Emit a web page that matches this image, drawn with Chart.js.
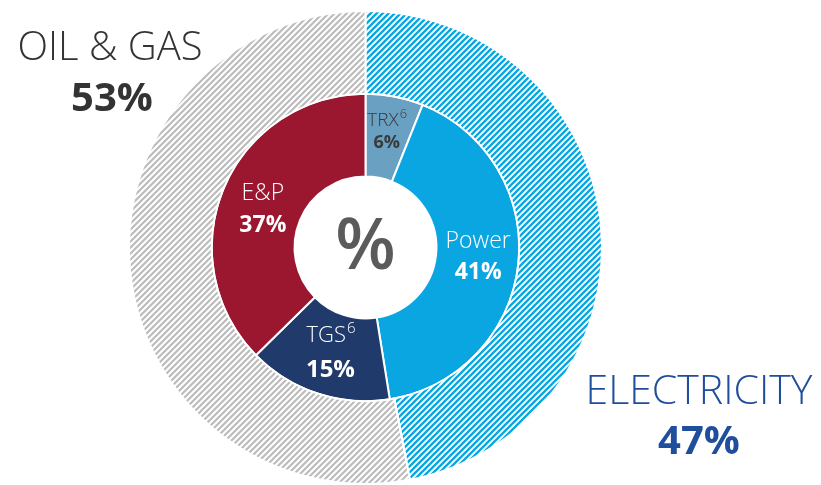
<!DOCTYPE html>
<html>
<head>
<meta charset="utf-8">
<script src="https://cdn.jsdelivr.net/npm/chart.js@4/dist/chart.umd.min.js"></script>
<style>
  html, body { margin: 0; padding: 0; background: #ffffff; }
  #wrap { width: 821px; height: 485px; position: relative; }
</style>
</head>
<body>
<div id="wrap"><canvas id="c" width="821" height="485"></canvas></div>
<script>
// ---- data ----
const outerCategories = ['ELECTRICITY', 'OIL & GAS'];
const outerValues = [47, 53];
const innerCategories = ['TRX', 'Power', 'TGS', 'E&P'];
const innerSup = ['6', '', '6', ''];
const innerValues = [6, 41, 15, 37];
const centerLabel = '%';

// ---- styles ----
const FONT = '"Open Sans", "Noto Sans", sans-serif';
const innerColors = ['#6aa0c2', '#0aa6e1', '#1f3a6b', '#9b1730'];
const innerTextColors = ['#3a3a3a', '#ffffff', '#ffffff', '#ffffff'];
const innerFont = [
  {name: 19, val: 18, gap: 23, dy: -17, dx: 0},
  {name: 23, val: 23, gap: 31, dy: -18, dx: 1},
  {name: 22, val: 24, gap: 34, dy: -18, dx: 0},
  {name: 23, val: 23, gap: 32, dy: -11, dx: 1}
];

function hatch(color, size, lw) {
  const p = document.createElement('canvas');
  p.width = size; p.height = size;
  const g = p.getContext('2d');
  g.fillStyle = '#ffffff';
  g.fillRect(0, 0, size, size);
  g.strokeStyle = color;
  g.lineWidth = lw;
  g.beginPath();
  for (let k = -1; k <= 3; k++) {
    g.moveTo(-size, k * size + size);
    g.lineTo(k * size + size, -size);
  }
  g.stroke();
  return document.getElementById('c').getContext('2d').createPattern(p, 'repeat');
}

const outerColors = [hatch('#0aa6e1', 6, 2.3), hatch('#bcbcbc', 6, 2.2)];

const labelPlugin = {
  id: 'labels',
  afterDatasetsDraw(chart) {
    const ctx = chart.ctx;
    const meta = chart.getDatasetMeta(1);
    ctx.save();
    ctx.textAlign = 'center';
    ctx.textBaseline = 'middle';
    meta.data.forEach((arc, i) => {
      const pos = arc.tooltipPosition(true);
      const f = innerFont[i];
      const x = pos.x + f.dx;
      const y = pos.y + f.dy;
      ctx.fillStyle = innerTextColors[i];
      ctx.font = '300 ' + f.name + 'px ' + FONT;
      const name = innerCategories[i];
      const w = ctx.measureText(name).width;
      let supW = 0;
      const supSize = Math.round(f.name * 0.68);
      if (innerSup[i]) {
        ctx.font = '300 ' + supSize + 'px ' + FONT;
        supW = ctx.measureText(innerSup[i]).width;
      }
      const total = w + supW;
      ctx.font = '300 ' + f.name + 'px ' + FONT;
      ctx.textAlign = 'left';
      ctx.fillText(name, x - total / 2, y);
      if (innerSup[i]) {
        ctx.font = '300 ' + supSize + 'px ' + FONT;
        ctx.fillText(innerSup[i], x - total / 2 + w + 1, y - f.name * 0.33);
      }
      ctx.textAlign = 'center';
      ctx.font = 'bold ' + f.val + 'px ' + FONT;
      ctx.fillText(innerValues[i] + '%', x, y + f.gap);
    });
    // centre
    const c = meta.data[0];
    ctx.fillStyle = '#5b5b5b';
    ctx.font = '600 70px ' + FONT;
    ctx.fillText(centerLabel, c.x, c.y + 2);
    // outer labels
    ctx.fillStyle = '#333333';
    ctx.font = '300 40px ' + FONT;
    ctx.fillText(outerCategories[1], 110, 49);
    ctx.font = 'bold 40px ' + FONT;
    ctx.fillText(outerValues[1] + '%', 112, 100);
    ctx.fillStyle = '#1f4e9c';
    ctx.font = '300 41px ' + FONT;
    ctx.fillText(outerCategories[0], 699, 392);
    ctx.font = 'bold 40px ' + FONT;
    ctx.fillText(outerValues[0] + '%', 699, 443);
    ctx.restore();
  }
};

new Chart(document.getElementById('c'), {
  type: 'doughnut',
  data: {
    labels: innerCategories,
    datasets: [
      { data: outerValues, backgroundColor: outerColors, borderColor: '#ffffff', borderWidth: 2 },
      { data: innerValues, backgroundColor: innerColors, borderColor: '#ffffff', borderWidth: 2 }
    ]
  },
  options: {
    responsive: false,
    animation: false,
    cutout: '30%',
    layout: { padding: { left: 128, right: 218, top: 10, bottom: 0 } },
    plugins: { legend: { display: false }, tooltip: { enabled: false } }
  },
  plugins: [labelPlugin]
});
</script>
</body>
</html>
